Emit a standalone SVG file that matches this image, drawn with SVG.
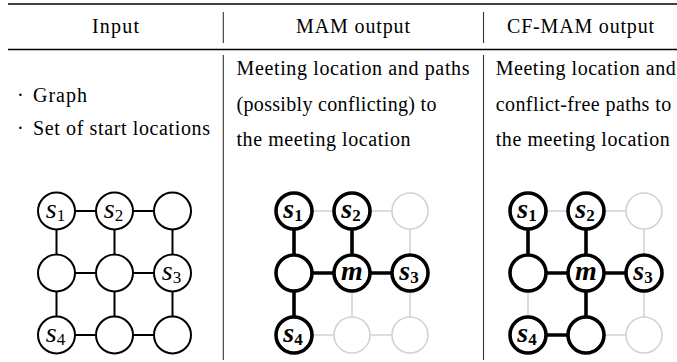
<svg xmlns="http://www.w3.org/2000/svg" width="677" height="362" viewBox="0 0 677 362">
<style>
.t{font-family:"Liberation Serif","DejaVu Serif","Times New Roman",serif;font-size:20px;fill:#000}
.rule{stroke:#000;stroke-width:1.3;fill:none}
.vr{stroke:#333;stroke-width:1.1;fill:none}
.n{fill:#fff;stroke:#000;stroke-width:2}
.nb{fill:#fff;stroke:#000;stroke-width:3.6}
.ng{fill:#fff;stroke:#d2d2d2;stroke-width:1.6}
.e{stroke:#000;stroke-width:2}
.eb{stroke:#000;stroke-width:3.6}
.eg{stroke:#d2d2d2;stroke-width:1.6}
.lab{font-family:"Liberation Serif","DejaVu Serif","Times New Roman",serif;font-style:italic;font-size:28px;fill:#000;text-anchor:middle}
.lb{font-weight:bold}
.sub{font-style:normal;font-size:17px}
</style>
<g id="table">
<line class="rule" x1="8" y1="4" x2="677" y2="4"/>
<line class="rule" x1="8" y1="49.5" x2="677" y2="49.5"/>
<line class="vr" x1="223.3" y1="12" x2="223.3" y2="43"/>
<line class="vr" x1="483.5" y1="12" x2="483.5" y2="43"/>
<line class="vr" x1="223.3" y1="55" x2="223.3" y2="360"/>
<line class="vr" x1="483.5" y1="55" x2="483.5" y2="360"/>
</g>
<g id="header">
<text class="t" x="115.5" y="33" text-anchor="middle" textLength="47">Input</text>
<text class="t" x="353" y="33" text-anchor="middle" textLength="114">MAM output</text>
<text class="t" x="580.5" y="33" text-anchor="middle" textLength="147">CF-MAM output</text>
</g>
<g id="input-text">
<text class="t" x="17" y="102">·</text>
<text class="t" x="33" y="102" textLength="54">Graph</text>
<text class="t" x="17" y="134.5">·</text>
<text class="t" x="33" y="134.5" textLength="177">Set of start locations</text>
</g>
<g id="mam-text">
<text class="t" x="236.5" y="75" textLength="233">Meeting location and paths</text>
<text class="t" x="236.5" y="110.5" textLength="200">(possibly conflicting) to</text>
<text class="t" x="236.5" y="146" textLength="174">the meeting location</text>
</g>
<g id="cfmam-text">
<text class="t" x="495.7" y="75" textLength="180">Meeting location and</text>
<text class="t" x="495.7" y="110.5" textLength="175.5">conflict-free paths to</text>
<text class="t" x="495.7" y="146" textLength="174">the meeting location</text>
</g>
<g id="connectors">
<line class="e" x1="56.5" y1="211" x2="172.5" y2="211"/>
<line class="e" x1="56.5" y1="273" x2="172.5" y2="273"/>
<line class="e" x1="56.5" y1="335" x2="172.5" y2="335"/>
<line class="e" x1="56.5" y1="211" x2="56.5" y2="335"/>
<line class="e" x1="114.5" y1="211" x2="114.5" y2="335"/>
<line class="e" x1="172.5" y1="211" x2="172.5" y2="335"/>
<line class="eg" x1="294" y1="211" x2="410" y2="211"/>
<line class="eg" x1="410" y1="211" x2="410" y2="335"/>
<line class="eg" x1="352" y1="273" x2="352" y2="335"/>
<line class="eg" x1="294" y1="335" x2="410" y2="335"/>
<line class="eb" x1="294" y1="211" x2="294" y2="335"/>
<line class="eb" x1="352" y1="211" x2="352" y2="273"/>
<line class="eb" x1="294" y1="273" x2="410" y2="273"/>
<line class="eg" x1="528" y1="211" x2="644" y2="211"/>
<line class="eg" x1="644" y1="211" x2="644" y2="335"/>
<line class="eg" x1="528" y1="273" x2="528" y2="335"/>
<line class="eg" x1="586" y1="335" x2="644" y2="335"/>
<line class="eb" x1="528" y1="211" x2="528" y2="273"/>
<line class="eb" x1="586" y1="211" x2="586" y2="335"/>
<line class="eb" x1="528" y1="273" x2="644" y2="273"/>
<line class="eb" x1="528" y1="335" x2="586" y2="335"/>
</g>
<g id="input-graph">
<g id="in-s1"><circle class="n" cx="56.5" cy="211" r="18.5"/><text class="lab" x="55.5" y="218">s<tspan class="sub" dy="3">1</tspan></text></g>
<g id="in-s2"><circle class="n" cx="114.5" cy="211" r="18.5"/><text class="lab" x="113.5" y="218">s<tspan class="sub" dy="3">2</tspan></text></g>
<g id="in-n20"><circle class="n" cx="172.5" cy="211" r="18.5"/></g>
<g id="in-n01"><circle class="n" cx="56.5" cy="273" r="18.5"/></g>
<g id="in-n11"><circle class="n" cx="114.5" cy="273" r="18.5"/></g>
<g id="in-s3"><circle class="n" cx="172.5" cy="273" r="18.5"/><text class="lab" x="171.5" y="280">s<tspan class="sub" dy="3">3</tspan></text></g>
<g id="in-s4"><circle class="n" cx="56.5" cy="335" r="18.5"/><text class="lab" x="55.5" y="342">s<tspan class="sub" dy="3">4</tspan></text></g>
<g id="in-n12"><circle class="n" cx="114.5" cy="335" r="18.5"/></g>
<g id="in-n22"><circle class="n" cx="172.5" cy="335" r="18.5"/></g>
</g>
<g id="mam-graph">
<g id="mam-s1"><circle class="nb" cx="294" cy="211" r="18"/><text class="lab lb" x="293" y="218">s<tspan class="sub" dy="3">1</tspan></text></g>
<g id="mam-s2"><circle class="nb" cx="352" cy="211" r="18"/><text class="lab lb" x="351" y="218">s<tspan class="sub" dy="3">2</tspan></text></g>
<g id="mam-n20"><circle class="ng" cx="410" cy="211" r="18"/></g>
<g id="mam-n01"><circle class="nb" cx="294" cy="273" r="18"/></g>
<g id="mam-m"><circle class="nb" cx="352" cy="273" r="18"/><text class="lab lb" x="352" y="280">m</text></g>
<g id="mam-s3"><circle class="nb" cx="410" cy="273" r="18"/><text class="lab lb" x="409" y="280">s<tspan class="sub" dy="3">3</tspan></text></g>
<g id="mam-s4"><circle class="nb" cx="294" cy="335" r="18"/><text class="lab lb" x="293" y="342">s<tspan class="sub" dy="3">4</tspan></text></g>
<g id="mam-n12"><circle class="ng" cx="352" cy="335" r="18"/></g>
<g id="mam-n22"><circle class="ng" cx="410" cy="335" r="18"/></g>
</g>
<g id="cfmam-graph">
<g id="cf-s1"><circle class="nb" cx="528" cy="211" r="18"/><text class="lab lb" x="527" y="218">s<tspan class="sub" dy="3">1</tspan></text></g>
<g id="cf-s2"><circle class="nb" cx="586" cy="211" r="18"/><text class="lab lb" x="585" y="218">s<tspan class="sub" dy="3">2</tspan></text></g>
<g id="cf-n20"><circle class="ng" cx="644" cy="211" r="18"/></g>
<g id="cf-n01"><circle class="nb" cx="528" cy="273" r="18"/></g>
<g id="cf-m"><circle class="nb" cx="586" cy="273" r="18"/><text class="lab lb" x="586" y="280">m</text></g>
<g id="cf-s3"><circle class="nb" cx="644" cy="273" r="18"/><text class="lab lb" x="643" y="280">s<tspan class="sub" dy="3">3</tspan></text></g>
<g id="cf-s4"><circle class="nb" cx="528" cy="335" r="18"/><text class="lab lb" x="527" y="342">s<tspan class="sub" dy="3">4</tspan></text></g>
<g id="cf-n12"><circle class="nb" cx="586" cy="335" r="18"/></g>
<g id="cf-n22"><circle class="ng" cx="644" cy="335" r="18"/></g>
</g>
</svg>
